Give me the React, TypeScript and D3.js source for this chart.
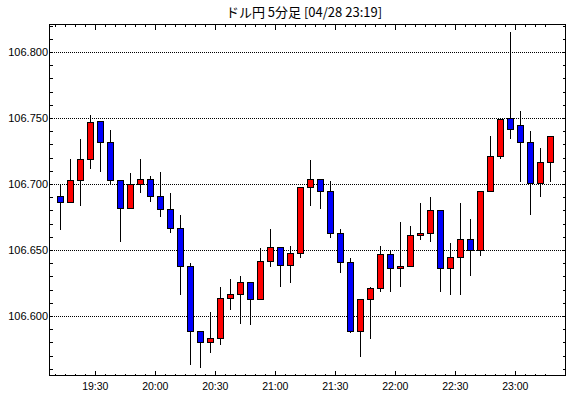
import React from "react";
import * as d3 from "d3";

const times = [
  "19:10","19:15","19:20","19:25","19:30","19:35","19:40","19:45","19:50","19:55",
  "20:00","20:05","20:10","20:15","20:20","20:25","20:30","20:35","20:40","20:45",
  "20:50","20:55","21:00","21:05","21:10","21:15","21:20","21:25","21:30","21:35",
  "21:40","21:45","21:50","21:55","22:00","22:05","22:10","22:15","22:20","22:25",
  "22:30","22:35","22:40","22:45","22:50","22:55","23:00","23:05","23:10","23:15",
];
const opens = [
  106.691,106.686,106.703,106.719,106.748,106.732,106.703,106.682,106.700,106.704,
  106.691,106.681,106.667,106.638,106.589,106.580,106.583,106.614,106.617,106.626,
  106.613,106.642,106.652,106.639,106.648,106.698,106.704,106.695,106.663,106.641,
  106.589,106.613,106.621,106.647,106.636,106.638,106.661,106.663,106.680,106.636,
  106.645,106.658,106.650,106.695,106.721,106.750,106.745,106.732,106.701,106.717,
];
const highs = [
  106.701,106.720,106.735,106.753,106.748,106.742,106.703,106.709,106.720,106.707,
  106.710,106.694,106.677,106.641,106.589,106.604,106.623,106.629,106.631,106.626,
  106.652,106.667,106.652,106.654,106.698,106.719,106.704,106.703,106.667,106.645,
  106.613,106.623,106.654,106.650,106.672,106.669,106.686,106.691,106.681,106.656,
  106.686,106.674,106.695,106.737,106.750,106.816,106.756,106.741,106.728,106.737,
];
const lows = [
  106.666,106.686,106.684,106.712,106.710,106.701,106.657,106.682,106.694,106.687,
  106.676,106.664,106.617,106.564,106.561,106.573,106.579,106.605,106.595,106.594,
  106.613,106.638,106.623,106.626,106.645,106.684,106.682,106.660,106.633,106.588,
  106.570,106.583,106.619,106.619,106.623,106.638,106.658,106.657,106.619,106.617,
  106.617,106.631,106.646,106.695,106.720,106.735,106.702,106.677,106.691,106.702,
];
const closes = [
  106.686,106.703,106.719,106.747,106.732,106.703,106.682,106.700,106.704,106.691,
  106.681,106.667,106.638,106.589,106.580,106.583,106.614,106.617,106.626,106.613,
  106.642,106.652,106.639,106.648,106.698,106.704,106.695,106.663,106.641,106.589,
  106.613,106.621,106.647,106.636,106.638,106.661,106.663,106.680,106.636,106.645,
  106.658,106.650,106.695,106.721,106.749,106.742,106.732,106.701,106.717,106.736,
];
const xTickLabels = ["19:30","20:00","20:30","21:00","21:30","22:00","22:30","23:00"];
const yTickValues = [106.6, 106.65, 106.7, 106.75, 106.8];
const yMinorTicks = [
  106.56,106.57,106.58,106.59,106.60,106.61,106.62,106.63,106.64,106.65,106.66,106.67,106.68,
  106.69,106.70,106.71,106.72,106.73,106.74,106.75,106.76,106.77,106.78,106.79,106.80,106.81,106.82,
];
const title = "ドル円 5分足 [04/28 23:19]";

const W = 570, H = 398;
const L = 49.5, R = 565.5, T = 24.5, B = 375.5;

const toMin = (s: string) => {
  const [h, m] = s.split(":").map(Number);
  return h * 60 + m;
};

export default function App() {
  const x = d3.scaleLinear().domain([1147.1, 1405.1]).range([49.5, 565.5]);
  const y = d3.scaleLinear().domain([106.5553, 106.8216]).range([375.5, 24]);
  const snap = (v: number) => Math.round(v - 0.5) + 0.5;
  const font = "'Liberation Sans', Arial, sans-serif";

  const candles = times.map((t, i) => {
    const cx = Math.round(x(toMin(t) + 2.5));
    const o = opens[i], c = closes[i];
    const top = snap(y(Math.max(o, c)));
    const bot = snap(y(Math.min(o, c)));
    return {
      cx, top, bot, up: c >= o,
      hy: snap(y(highs[i])), ly: snap(y(lows[i])),
    };
  });

  return (
    <svg width={W} height={H} style={{ position: "absolute", left: 0, top: 0, background: "#fff" }}>
      <rect x={0} y={0} width={W} height={H} fill="#fff" />
      <text x={304} y={17} textAnchor="middle" fontSize={13} fontFamily="'Noto Sans CJK JP', sans-serif" fill="#000">
        {title}
      </text>
      {/* gridlines */}
      {yTickValues.map((v) => (
        <line key={"g" + v} x1={L} x2={R} y1={snap(y(v))} y2={snap(y(v))} stroke="#000" strokeDasharray="1,1" shapeRendering="crispEdges" />
      ))}
      {/* candles */}
      {candles.map((c, i) => (
        <g key={"c" + i} shapeRendering="crispEdges">
          <line x1={c.cx + 0.5} x2={c.cx + 0.5} y1={c.hy} y2={c.ly} stroke="#000" />
          <rect x={c.cx - 2.5} y={c.top} width={6} height={Math.max(c.bot - c.top, 1)} fill={c.up ? "#ff0000" : "#0000ff"} stroke="#000" />
        </g>
      ))}
      {/* frame */}
      <rect x={L} y={T} width={R - L} height={B - T} fill="none" stroke="#000" shapeRendering="crispEdges" />
      {/* x ticks */}
      {times.map((t) => {
        const xv = snap(x(toMin(t)));
        const major = xTickLabels.includes(t);
        const len = major ? 5 : 2;
        return (
          <g key={"xt" + t} shapeRendering="crispEdges">
            <line x1={xv} x2={xv} y1={B} y2={B - len} stroke="#000" />
            <line x1={xv} x2={xv} y1={T} y2={T + len} stroke="#000" />
          </g>
        );
      })}
      {xTickLabels.map((t) => (
        <text key={"xl" + t} x={x(toMin(t))} y={390} textAnchor="middle" fontSize={10.5} fontFamily={font} fill="#000">
          {t}
        </text>
      ))}
      {/* y ticks */}
      {yMinorTicks.map((v) => {
        const yv = snap(y(v));
        if (yv < T || yv > B) return null;
        return (
          <g key={"yt" + v} shapeRendering="crispEdges">
            <line x1={L} x2={L + 3} y1={yv} y2={yv} stroke="#000" />
            <line x1={R} x2={R - 3} y1={yv} y2={yv} stroke="#000" />
          </g>
        );
      })}
      {yTickValues.map((v) => (
        <text key={"yl" + v} x={48} y={y(v)} dy="0.35em" textAnchor="end" fontSize={11} fontFamily={font} fill="#000">
          {d3.format(".3f")(v)}
        </text>
      ))}
    </svg>
  );
}
